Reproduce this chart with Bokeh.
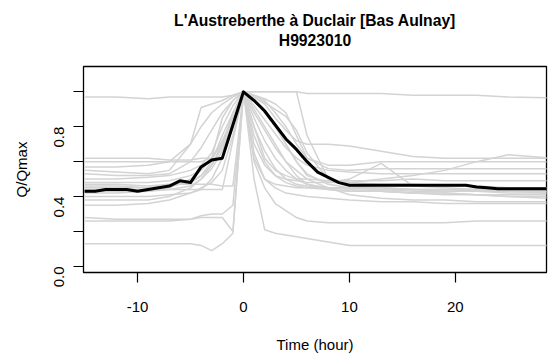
from bokeh.plotting import figure
from bokeh.models import FixedTicker, PrintfTickFormatter, Title
from bokeh.embed import file_html
from bokeh.resources import INLINE

# ---------------- data ----------------
title_line1 = "L'Austreberthe à Duclair [Bas Aulnay]"
title_line2 = "H9923010"
x_label = "Time (hour)"
y_label = "Q/Qmax"

# time grid for individual (grey) events
t_grey = [-15, -12, -9, -7, -5, -4, -3, -2, -1, 0, 1, 2, 3, 4, 5, 6, 8, 10, 13, 16, 19, 22, 25, 29]

ev01 = [0.97, 0.97, 0.96, 0.97, 0.97, 0.97, 0.97, 0.97, 0.98, 1.00, 1.00, 1.00, 1.00, 1.00, 1.00, 0.99, 0.99, 0.99, 0.99, 0.98, 0.98, 0.98, 0.97, 0.965]
ev02 = [0.62, 0.62, 0.62, 0.61, 0.61, 0.62, 0.62, 0.85, 0.95, 1.00, 1.00, 1.00, 1.00, 1.00, 1.00, 0.75, 0.50, 0.48, 0.47, 0.47, 0.46, 0.46, 0.45, 0.45]
ev03 = [0.60, 0.60, 0.60, 0.60, 0.60, 0.60, 0.62, 0.70, 0.85, 1.00, 0.97, 0.93, 0.85, 0.78, 0.72, 0.70, 0.70, 0.69, 0.66, 0.63, 0.62, 0.62, 0.62, 0.62]
ev04 = [0.57, 0.57, 0.58, 0.60, 0.70, 0.80, 0.88, 0.93, 0.97, 1.00, 0.98, 0.95, 0.88, 0.80, 0.70, 0.62, 0.58, 0.58, 0.60, 0.60, 0.60, 0.60, 0.60, 0.60]
ev05 = [0.55, 0.54, 0.53, 0.55, 0.70, 0.91, 0.93, 0.95, 0.98, 1.00, 0.98, 0.96, 0.93, 0.88, 0.75, 0.62, 0.56, 0.55, 0.56, 0.56, 0.56, 0.56, 0.56, 0.56]
ev06 = [0.53, 0.52, 0.52, 0.53, 0.60, 0.68, 0.78, 0.88, 0.95, 1.00, 0.92, 0.84, 0.76, 0.68, 0.62, 0.58, 0.55, 0.54, 0.53, 0.53, 0.53, 0.53, 0.53, 0.53]
ev07 = [0.50, 0.50, 0.51, 0.52, 0.55, 0.58, 0.65, 0.80, 0.92, 1.00, 0.80, 0.62, 0.55, 0.52, 0.50, 0.50, 0.49, 0.49, 0.49, 0.50, 0.49, 0.49, 0.49, 0.49]
ev08 = [0.48, 0.48, 0.48, 0.49, 0.52, 0.55, 0.62, 0.72, 0.85, 1.00, 0.70, 0.58, 0.52, 0.50, 0.49, 0.48, 0.48, 0.48, 0.50, 0.52, 0.55, 0.60, 0.64, 0.62]
ev09 = [0.47, 0.47, 0.46, 0.47, 0.47, 0.47, 0.47, 0.46, 0.46, 1.00, 0.62, 0.50, 0.47, 0.46, 0.45, 0.45, 0.45, 0.45, 0.45, 0.44, 0.44, 0.44, 0.43, 0.43]
ev10 = [0.46, 0.46, 0.45, 0.46, 0.48, 0.52, 0.60, 0.75, 0.88, 1.00, 0.95, 0.88, 0.80, 0.70, 0.60, 0.52, 0.48, 0.50, 0.59, 0.46, 0.45, 0.44, 0.44, 0.44]
ev11 = [0.44, 0.44, 0.44, 0.44, 0.44, 0.44, 0.44, 0.44, 0.72, 1.00, 0.90, 0.80, 0.70, 0.60, 0.52, 0.47, 0.44, 0.43, 0.43, 0.42, 0.42, 0.41, 0.41, 0.41]
ev12 = [0.42, 0.42, 0.43, 0.45, 0.50, 0.55, 0.62, 0.70, 0.85, 1.00, 0.85, 0.72, 0.62, 0.55, 0.50, 0.47, 0.45, 0.44, 0.43, 0.42, 0.41, 0.41, 0.40, 0.40]
ev13 = [0.40, 0.40, 0.40, 0.41, 0.42, 0.44, 0.50, 0.62, 0.80, 1.00, 0.75, 0.60, 0.52, 0.48, 0.46, 0.45, 0.44, 0.43, 0.43, 0.42, 0.42, 0.41, 0.40, 0.39]
ev14 = [0.38, 0.38, 0.38, 0.40, 0.45, 0.50, 0.58, 0.68, 0.82, 1.00, 0.88, 0.78, 0.68, 0.60, 0.55, 0.50, 0.45, 0.41, 0.39, 0.38, 0.38, 0.37, 0.37, 0.37]
ev15 = [0.35, 0.35, 0.36, 0.38, 0.42, 0.45, 0.48, 0.55, 0.75, 1.00, 0.65, 0.50, 0.45, 0.42, 0.41, 0.40, 0.39, 0.38, 0.37, 0.37, 0.36, 0.36, 0.36, 0.36]
ev16 = [0.28, 0.27, 0.27, 0.27, 0.27, 0.28, 0.28, 0.28, 0.20, 1.00, 0.60, 0.45, 0.36, 0.32, 0.28, 0.26, 0.25, 0.25, 0.25, 0.25, 0.25, 0.26, 0.26, 0.26]
ev17 = [0.13, 0.13, 0.13, 0.13, 0.13, 0.12, 0.09, 0.13, 0.19, 1.00, 0.50, 0.21, 0.19, 0.18, 0.17, 0.16, 0.14, 0.12, 0.12, 0.12, 0.12, 0.12, 0.12, 0.12]
ev18 = [0.26, 0.26, 0.26, 0.26, 0.27, 0.29, 0.30, 0.30, 0.35, 1.00, 0.80, 0.66, 0.56, 0.50, 0.47, 0.46, 0.45, 0.45, 0.44, 0.44, 0.43, 0.43, 0.43, 0.43]
ev19 = [0.45, 0.45, 0.45, 0.46, 0.48, 0.52, 0.58, 0.70, 0.88, 1.00, 0.97, 0.94, 0.90, 0.86, 0.78, 0.65, 0.50, 0.46, 0.45, 0.44, 0.44, 0.43, 0.43, 0.42]
ev20 = [0.43, 0.43, 0.43, 0.44, 0.46, 0.50, 0.56, 0.66, 0.82, 1.00, 0.96, 0.90, 0.80, 0.70, 0.60, 0.53, 0.47, 0.45, 0.44, 0.43, 0.43, 0.43, 0.42, 0.42]

events = [ev01, ev02, ev03, ev04, ev05, ev06, ev07, ev08, ev09, ev10,
          ev11, ev12, ev13, ev14, ev15, ev16, ev17, ev18, ev19, ev20]

# hourly mean hydrograph (black)
t_mean = list(range(-15, 30))
q_mean = [0.43, 0.43, 0.44, 0.44, 0.44, 0.43, 0.44, 0.45, 0.46, 0.49, 0.48, 0.57, 0.61, 0.62, 0.81,
          1.00,
          0.95, 0.89, 0.81, 0.73, 0.67, 0.60, 0.54, 0.51, 0.48,
          0.465, 0.465, 0.465, 0.465, 0.465, 0.465, 0.465, 0.465, 0.465, 0.465, 0.465, 0.465,
          0.455, 0.45, 0.445, 0.445, 0.445, 0.445, 0.445, 0.445]

x_ticks = [-10, 0, 10, 20]
y_ticks_labelled = [0.0, 0.4, 0.8]
y_ticks_unlabelled = [0.2, 0.6, 1.0]

# ---------------- layout ----------------
XMIN, XMAX = -15.1, 28.6
YMIN, YMAX = -0.035, 1.145
W, H = 552, 361
BL, BR, BT = 83, 6, 66
FH = 206
BB = H - BT - FH

FONT = "Liberation Sans"

p = figure(width=W, height=H, x_range=(XMIN, XMAX), y_range=(YMIN, YMAX),
           output_backend="svg", toolbar_location=None,
           min_border_left=BL, min_border_right=BR, min_border_top=BT, min_border_bottom=BB)
p.grid.visible = False
p.outline_line_color = "black"
p.outline_line_width = 1.3
p.background_fill_color = "white"
p.border_fill_color = "white"

for ev in events:
    p.line(t_grey, ev, line_color="#D3D3D3", line_width=1.5)
p.line(t_mean, q_mean, line_color="black", line_width=3, line_join="round")

# axes
xa = p.xaxis[0]
xa.ticker = FixedTicker(ticks=x_ticks, minor_ticks=[])
xa.formatter = PrintfTickFormatter(format="%d")
xa.axis_line_color = None
xa.major_tick_out = 10
xa.major_tick_in = 0
xa.major_tick_line_width = 1.2
xa.major_label_standoff = 19
xa.major_label_text_font = FONT
xa.major_label_text_font_size = "15px"
xa.major_label_text_color = "black"
xa.axis_label = x_label
xa.axis_label_text_font = FONT
xa.axis_label_text_font_size = "15px"
xa.axis_label_text_font_style = "normal"
xa.axis_label_text_color = "black"
xa.axis_label_standoff = 21

ya = p.yaxis[0]
ya.ticker = FixedTicker(ticks=y_ticks_labelled, minor_ticks=y_ticks_unlabelled)
ya.formatter = PrintfTickFormatter(format="%.1f")
ya.axis_line_color = None
ya.major_tick_out = 10
ya.major_tick_in = 0
ya.minor_tick_out = 10
ya.minor_tick_in = 0
ya.major_tick_line_width = 1.2
ya.minor_tick_line_width = 1.2
ya.minor_tick_line_color = "black"
ya.major_label_orientation = 3.14159265 / 2
ya.major_label_standoff = 14
ya.major_label_text_font = FONT
ya.major_label_text_font_size = "15px"
ya.major_label_text_color = "black"
ya.axis_label = y_label
ya.axis_label_text_font = FONT
ya.axis_label_text_font_size = "15px"
ya.axis_label_text_font_style = "normal"
ya.axis_label_text_color = "black"
ya.axis_label_standoff = 17

# title (two lines, centred over the frame); the later one sits on top
for txt, so in [(title_line2, 36), (title_line1, -35)]:
    p.add_layout(Title(text=txt, align="center", standoff=so,
                       text_font=FONT, text_font_size="15.7px", text_font_style="bold",
                       text_color="black"), "above")

open("out.html", "w").write(file_html(p, INLINE))
